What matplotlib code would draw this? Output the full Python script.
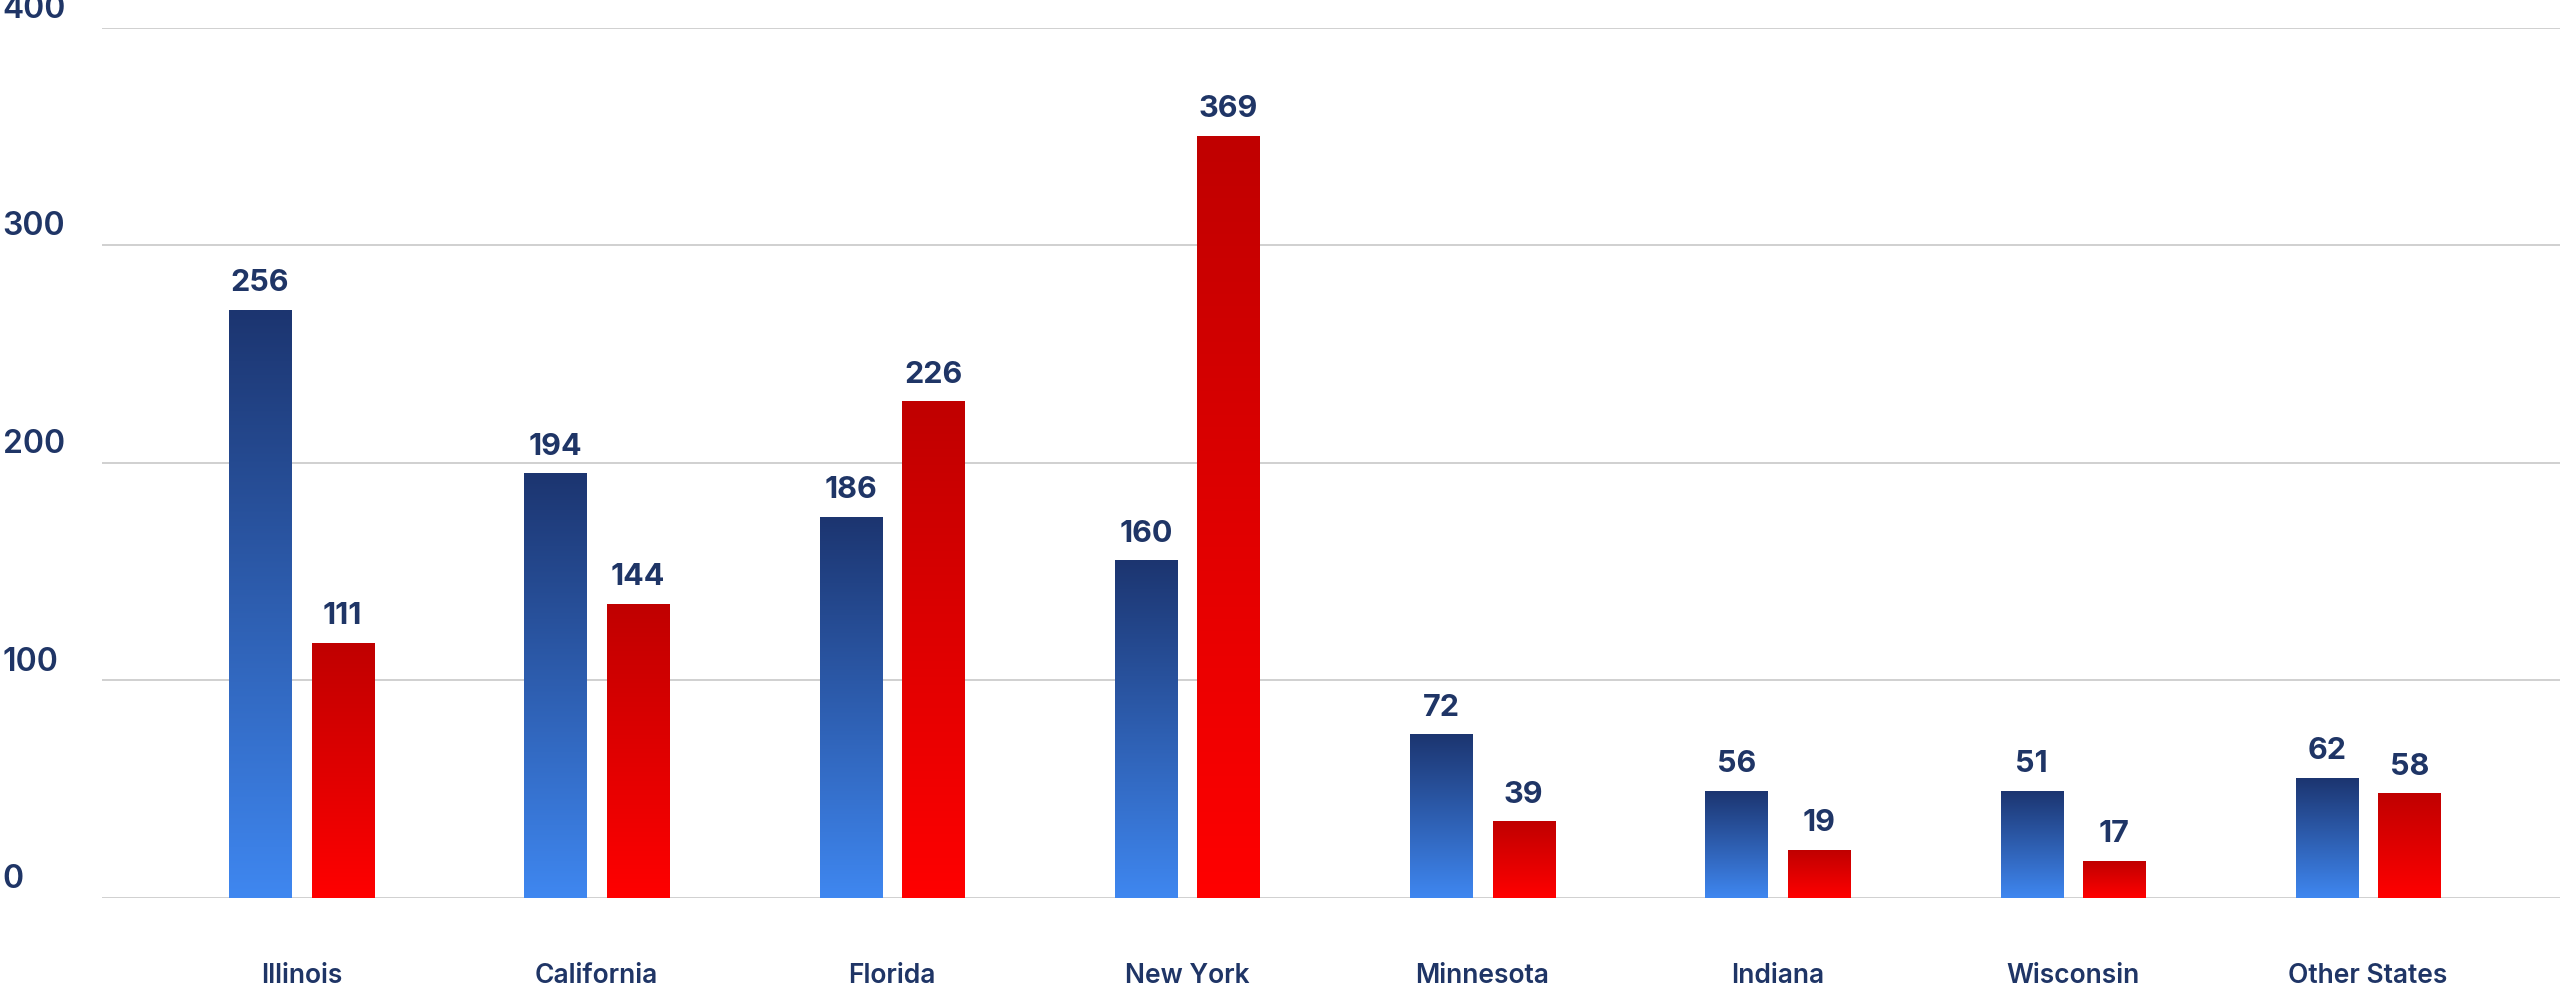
import matplotlib
matplotlib.use("Agg")
import matplotlib.pyplot as plt
import numpy as np
from matplotlib.colors import LinearSegmentedColormap

states = ["Illinois", "California", "Florida", "New York", "Minnesota", "Indiana", "Wisconsin", "Other States"]
blue_heights = [270, 195, 175, 155, 75, 49, 49, 55]
red_heights = [117, 135, 228, 350, 35, 22, 17, 48]
blue_labels = [256, 194, 186, 160, 72, 56, 51, 62]
red_labels = [111, 144, 226, 369, 39, 19, 17, 58]
yticks = [0, 100, 200, 300, 400]

plt.rcParams['font.family'] = ['Inter', 'DejaVu Sans']
navy = "#1f3566"
fig = plt.figure(figsize=(25.6, 9.88), dpi=100)
ax = fig.add_axes([0.04, 0.091, 0.96, 0.881])
ax.set_xticks([]); ax.set_yticks([])
for s in ax.spines.values():
    s.set_visible(False)
for t in yticks:
    ax.axhline(t, color="#c8c8c8", lw=1.2, zorder=0)
    ax.annotate(str(t), xy=(0.001, t), xycoords=("figure fraction", "data"),
                xytext=(0, 2), textcoords="offset points", ha="left", va="bottom",
                fontsize=23, color=navy, fontweight="semibold", annotation_clip=False)

cm_b = LinearSegmentedColormap.from_list("b", ["#3f87f0", "#1c3570"])
cm_r = LinearSegmentedColormap.from_list("r", ["#ff0000", "#c00000"])
grad = np.linspace(0, 1, 256).reshape(-1, 1)
w = 0.21
off = 0.14
for i, st in enumerate(states):
    for h, lab, dx, cm in [(blue_heights[i], blue_labels[i], -off, cm_b), (red_heights[i], red_labels[i], off, cm_r)]:
        x0 = i + dx - w / 2
        ax.imshow(grad, extent=[x0, x0 + w, 0, h], origin="lower", cmap=cm, aspect="auto", zorder=2)
        ax.text(i + dx, h + 6, str(lab), ha="center", va="bottom", fontsize=22,
                fontweight="bold", color=navy)
    ax.text(i, -30, st, ha="center", va="top", fontsize=19, color=navy,
            fontweight="semibold", clip_on=False)
ax.set_xlim(-0.674, 7.65)
ax.set_ylim(0, 400)
fig.savefig("out.png", dpi=100)
